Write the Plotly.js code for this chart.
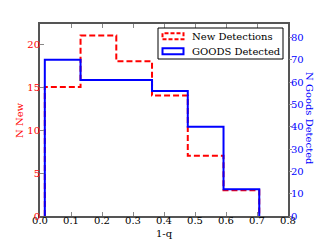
<!DOCTYPE html>
<html>
<head>
<meta charset="utf-8">
<script src="https://cdn.plot.ly/plotly-3.0.1.min.js"></script>
<style>html,body{margin:0;padding:0;background:#fff;}#chart{width:320px;height:240px;}</style>
</head>
<body>
<div id="chart"></div>
<script>
// Bin edges of 1-q
var binEdges = [0.0155, 0.1308, 0.2461, 0.3614, 0.4767, 0.5920, 0.7073];
// Histogram counts
var newDetections = [15, 21, 18, 14, 7, 3];
var goodsDetected = [70, 61, 61, 56, 40, 12];
var seriesNames = ["New Detections", "GOODS Detected"];
var xTickVals = [0, 0.1, 0.2, 0.3, 0.4, 0.5, 0.6, 0.7, 0.8];
var leftTickVals = [0, 5, 10, 15, 20];
var rightTickVals = [0, 10, 20, 30, 40, 50, 60, 70, 80];

function stepXY(edges, vals) {
  var x = [edges[0]], y = [0];
  for (var i = 0; i < vals.length; i++) { x.push(edges[i]); y.push(vals[i]); }
  x.push(edges[edges.length - 1]); y.push(0);
  return {x: x, y: y};
}
var sRed = stepXY(binEdges, newDetections);
var sBlue = stepXY(binEdges, goodsDetected);

var FONT = "DejaVu Serif, serif";
var traces = [
  {x: sRed.x, y: sRed.y, type: 'scatter', mode: 'lines', line: {shape: 'hv', color: '#ff0000', width: 2, dash: '6px,3px'}, name: seriesNames[0], yaxis: 'y', showlegend: false, hoverinfo: 'skip'},
  {x: sBlue.x, y: sBlue.y, type: 'scatter', mode: 'lines', line: {shape: 'hv', color: '#0000ff', width: 2}, name: seriesNames[1], yaxis: 'y2', showlegend: false, hoverinfo: 'skip'}
];

function px(v) { return (v - 40) / 248; }
function py(v) { return (216 - v) / 192; }

var layout = {
  width: 320, height: 240,
  margin: {l: 40, r: 32, t: 24, b: 24, pad: 0},
  paper_bgcolor: '#fff', plot_bgcolor: '#fff',
  font: {family: FONT, size: 10, color: '#000'},
  showlegend: false,
  xaxis: {range: [0, 0.8], tickvals: xTickVals, tickformat: '.1f', ticks: 'inside', ticklen: 4, tickcolor: '#888',
          showline: true, linecolor: '#555', linewidth: 2, mirror: 'ticks', showgrid: false, zeroline: false,
          ticklabelstandoff: -6,
          tickfont: {family: FONT, size: 10, color: '#000'}},
  yaxis: {range: [0, 22.33], tickvals: leftTickVals, ticks: 'inside', ticklen: 4, tickcolor: '#888',
          showline: true, linecolor: '#555', linewidth: 2, mirror: true, showgrid: false, zeroline: false,
          ticklabelstandoff: -4,
          tickfont: {family: FONT, size: 10, color: '#ff0000'}},
  yaxis2: {range: [0, 86.06], tickvals: rightTickVals, overlaying: 'y', side: 'right', ticks: 'outside', ticklen: 3, tickcolor: '#888',
           showline: false, showgrid: false, zeroline: false,
           ticklabelstandoff: -3,
           tickfont: {family: FONT, size: 10, color: '#0000ff'}},
  shapes: [
    {type: 'rect', xref: 'paper', yref: 'paper', x0: px(158), x1: px(283), y0: py(59), y1: py(28), line: {color: '#000', width: 1}, fillcolor: '#fff'},
    {type: 'rect', xref: 'paper', yref: 'paper', x0: px(162.5), x1: px(183.5), y0: py(39.3), y1: py(33.3), line: {color: '#ff0000', width: 2, dash: '4px,2px'}, fillcolor: 'rgba(0,0,0,0)'},
    {type: 'rect', xref: 'paper', yref: 'paper', x0: px(162.5), x1: px(183.5), y0: py(54.3), y1: py(48.3), line: {color: '#0000ff', width: 2}, fillcolor: 'rgba(0,0,0,0)'}
  ],
  annotations: [
    {text: seriesNames[0], xref: 'paper', yref: 'paper', x: px(190), y: py(36.7), xanchor: 'left', yanchor: 'middle', showarrow: false, font: {family: FONT, size: 10, color: '#000'}},
    {text: seriesNames[1], xref: 'paper', yref: 'paper', x: px(190), y: py(51.7), xanchor: 'left', yanchor: 'middle', showarrow: false, font: {family: FONT, size: 10, color: '#000'}},
    {text: 'N New', xref: 'paper', yref: 'paper', x: px(19), y: py(120), xanchor: 'center', yanchor: 'middle', textangle: -90, showarrow: false, font: {family: FONT, size: 10, color: '#ff0000'}},
    {text: 'N Goods Detected', xref: 'paper', yref: 'paper', x: px(310), y: py(118), xanchor: 'center', yanchor: 'middle', textangle: 90, showarrow: false, font: {family: FONT, size: 10, color: '#0000ff'}},
    {text: '1-q', xref: 'paper', yref: 'paper', x: px(164), y: py(233), xanchor: 'center', yanchor: 'middle', showarrow: false, font: {family: FONT, size: 10, color: '#000'}}
  ]
};
Plotly.newPlot('chart', traces, layout, {staticPlot: true, displayModeBar: false});
</script>
</body>
</html>
